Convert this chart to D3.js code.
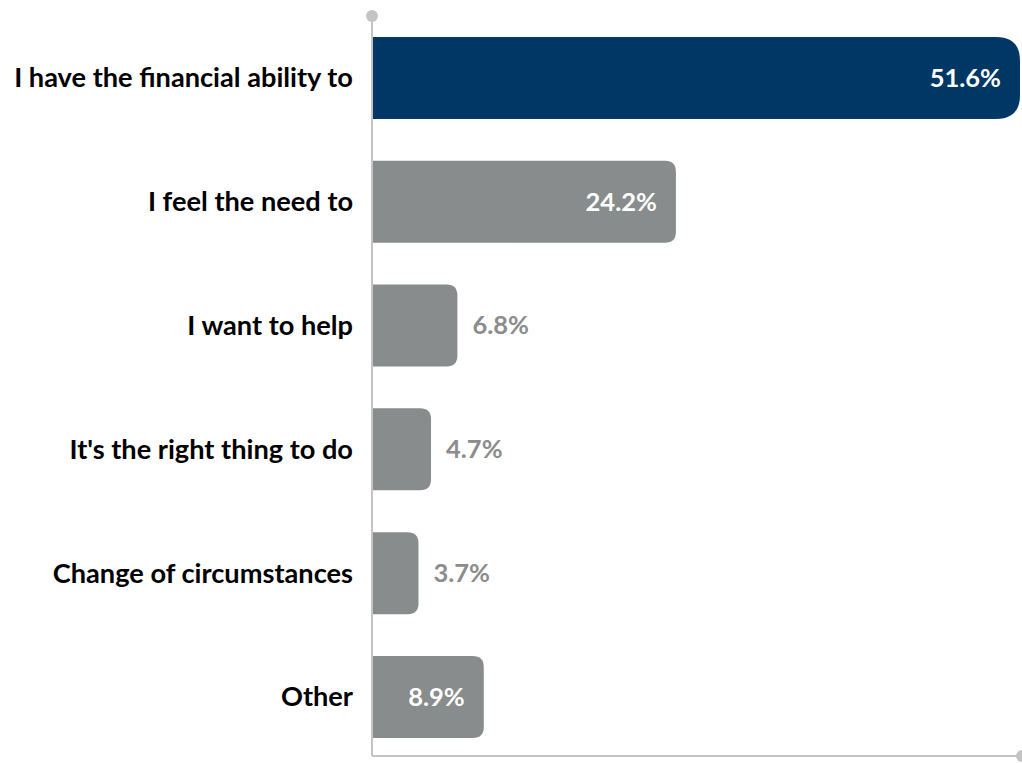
<!DOCTYPE html>
<html><head><meta charset="utf-8">
<script src="https://cdn.jsdelivr.net/npm/d3@7"></script>
<style>html,body{margin:0;padding:0;background:#fff;}</style>
</head><body>
<svg id="c" width="1022" height="763"></svg>
<script>
const categories = ["I have the financial ability to","I feel the need to","I want to help","It's the right thing to do","Change of circumstances","Other"];
const values = [51.6, 24.2, 6.8, 4.7, 3.7, 8.9];
const valueLabels = ["51.6%","24.2%","6.8%","4.7%","3.7%","8.9%"];

const svg = d3.select("#c");
const x0 = 372, x1 = 1020;
const x = d3.scaleLinear().domain([0, 51.6]).range([x0, x1]);
const y = d3.scaleBand().domain(categories).range([18.4, 756.5]).paddingInner(0.3376).paddingOuter(0.15);

const navy = "#003764", gray = "#898c8c", axisCol = "#c4c4c4";
const font = "Lato, 'Open Sans', sans-serif";

function barPath(xs, xe, yt, h, r) {
  r = Math.min(r, (xe - xs), h / 2);
  return `M${xs},${yt}H${xe - r}Q${xe},${yt} ${xe},${yt + r}V${yt + h - r}Q${xe},${yt + h} ${xe - r},${yt + h}H${xs}Z`;
}

const g = svg.append("g");
categories.forEach((c, i) => {
  const v = values[i];
  const yt = y(c), h = y.bandwidth();
  const xe = x(v);
  g.append("path").attr("d", barPath(x(0), xe, yt, h, i === 0 ? 24 : 11))
    .attr("fill", i === 0 ? navy : gray);
  const inside = (xe - x(0)) > 100;
  g.append("text")
    .attr("x", inside ? xe - 19 : xe + 15)
    .attr("y", yt + h / 2)
    .attr("dy", "0.35em")
    .attr("text-anchor", inside ? "end" : "start")
    .attr("fill", inside ? "#ffffff" : "#8c8c8c")
    .style("font-family", font).style("font-weight", "bold").style("font-size", "25.5px")
    .text(valueLabels[i]);
  g.append("text")
    .attr("x", 353)
    .attr("y", yt + h / 2)
    .attr("dy", "0.35em")
    .attr("text-anchor", "end")
    .attr("fill", "#000")
    .style("font-family", font).style("font-weight", "bold").style("font-size", "27.2px")
    .text(c);
});

// axes
svg.append("line").attr("x1", x0).attr("x2", x0).attr("y1", 16).attr("y2", 756)
  .attr("stroke", axisCol).attr("stroke-width", 2);
svg.append("line").attr("x1", x0).attr("x2", x1).attr("y1", 756).attr("y2", 756)
  .attr("stroke", axisCol).attr("stroke-width", 2);
svg.append("circle").attr("cx", x0).attr("cy", 16).attr("r", 6).attr("fill", axisCol);
svg.append("circle").attr("cx", x1 + 2).attr("cy", 756).attr("r", 6).attr("fill", axisCol);
</script>
</body></html>
